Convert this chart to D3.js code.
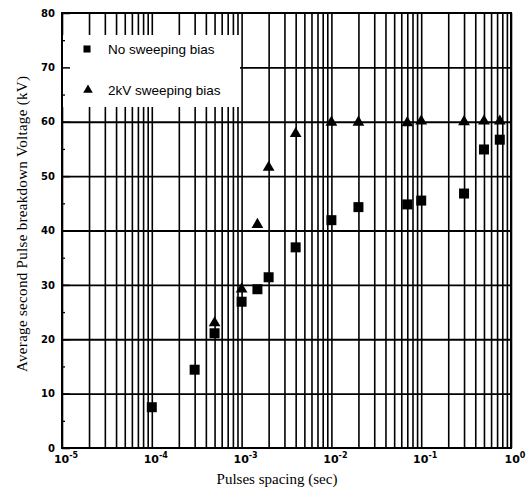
<!DOCTYPE html>
<html>
<head>
<meta charset="utf-8">
<script src="https://cdn.jsdelivr.net/npm/d3@7"></script>
<style>
  body { margin: 0; background: #fff; }
  svg { display: block; }
</style>
</head>
<body>
<svg width="528" height="491"></svg>
<script>
// values
var spacing_none = [1e-4, 3e-4, 5e-4, 1e-3, 1.5e-3, 2e-3, 4e-3, 1e-2, 2e-2, 7e-2, 1e-1, 3e-1, 5e-1, 7.5e-1]
var voltage_none = [7.5, 14.4, 21.1, 26.9, 29.2, 31.4, 36.9, 41.9, 44.3, 44.8, 45.5, 46.8, 54.9, 56.7]
var spacing_bias = [5e-4, 1e-3, 1.5e-3, 2e-3, 4e-3, 1e-2, 2e-2, 7e-2, 1e-1, 3e-1, 5e-1, 7.5e-1]
var voltage_bias = [23.0, 29.2, 41.1, 51.6, 57.8, 59.9, 59.9, 59.8, 60.1, 60.0, 60.1, 60.1]
var x_decades = [1e-5, 1e-4, 1e-3, 1e-2, 1e-1, 1]
var x_exponents = ['-5', '-4', '-3', '-2', '-1', '0']
var y_ticks = [0, 10, 20, 30, 40, 50, 60, 70, 80]
var y_minor = [5, 15, 25, 35, 45, 55, 65, 75]
var legend_labels = ['No sweeping bias', '2kV sweeping bias']

var svg = d3.select('svg')
// plot box (window.top is reserved, so use own names)
var pl = 62, pr = 511, pt = 13, pb = 448

var x = d3.scaleLog().domain([1e-5, 1]).range([pl, pr])
var y = d3.scaleLinear().domain([0, 80]).range([pb, pt])

// vertical grid, every 1..9 of each decade
svg.append('g')
  .attr('transform', 'translate(0,' + pb + ')')
  .call(d3.axisBottom(x).tickValues(x.ticks()).tickSize(-(pb - pt)).tickFormat(''))
  .call(g => g.select('.domain').remove())
  .selectAll('line')
  .style('stroke', '#000')
  .style('stroke-width', 1.6)

// horizontal grid
svg.append('g')
  .attr('transform', 'translate(' + pl + ',0)')
  .call(d3.axisLeft(y).tickValues(y_ticks.slice(1, -1)).tickSize(-(pr - pl)).tickFormat(''))
  .call(g => g.select('.domain').remove())
  .selectAll('line')
  .style('stroke', '#000')
  .style('stroke-width', 1.8)

// legend box hides the grid
svg.append('rect')
  .attr('x', pl).attr('y', 35)
  .attr('width', 178).attr('height', 72)
  .style('fill', '#fff')

// y axis: inward ticks and labels
var yAxis = svg.append('g')
  .attr('transform', 'translate(' + pl + ',0)')
  .call(d3.axisLeft(y).tickValues(y_ticks).tickSize(-8).tickPadding(7))
yAxis.select('.domain').remove()
yAxis.selectAll('line').style('stroke', '#000').style('stroke-width', 1.5)
yAxis.selectAll('text')
  .style('font-family', 'DejaVu Sans')
  .style('font-weight', 'bold')
  .style('font-size', '10px')
  .style('fill', '#000')

svg.append('g')
  .attr('transform', 'translate(' + pl + ',0)')
  .call(d3.axisLeft(y).tickValues(y_minor).tickSize(-3).tickFormat(''))
  .call(g => g.select('.domain').remove())
  .selectAll('line')
  .style('stroke', '#000')
  .style('stroke-width', 1.3)

// frame
svg.append('rect')
  .attr('x', pl).attr('y', pt)
  .attr('width', pr - pl).attr('height', pb - pt)
  .style('fill', 'none')
  .style('stroke', '#000')
  .style('stroke-width', 2)

// x labels 10^n
var xl = svg.selectAll('.xlab')
  .data(x_decades)
  .enter()
  .append('text')
  .attr('class', 'xlab')
  .attr('x', (d) => x(d) + 4)
  .attr('y', 463)
  .attr('text-anchor', 'middle')
  .style('font-family', 'DejaVu Sans')
  .style('font-weight', 'bold')
  .style('font-size', '11px')
xl.append('tspan').text('10')
xl.append('tspan')
  .attr('dy', -5)
  .style('font-size', '8px')
  .text((d, i) => x_exponents[i])

// axis titles
svg.append('text')
  .attr('x', 277).attr('y', 484)
  .attr('text-anchor', 'middle')
  .style('font-family', 'Liberation Serif')
  .style('font-size', '15px')
  .text('Pulses spacing (sec)')

svg.append('text')
  .attr('transform', 'translate(27,224) rotate(-90)')
  .attr('text-anchor', 'middle')
  .attr('textLength', 296)
  .attr('lengthAdjust', 'spacing')
  .style('font-family', 'Liberation Serif')
  .style('font-size', '15px')
  .text('Average second Pulse breakdown Voltage (kV)')

// data points
var square = d3.symbol().type(d3.symbolSquare).size(100)
var triangle = d3.symbol().type(d3.symbolTriangle).size(60)

svg.selectAll('.sq')
  .data(spacing_none)
  .enter()
  .append('path')
  .attr('class', 'sq')
  .attr('d', square)
  .attr('transform', (d, i) => 'translate(' + x(d) + ',' + y(voltage_none[i]) + ')')
  .style('fill', '#000')

svg.selectAll('.tri')
  .data(spacing_bias)
  .enter()
  .append('path')
  .attr('class', 'tri')
  .attr('d', triangle)
  .attr('transform', (d, i) => 'translate(' + x(d) + ',' + y(voltage_bias[i]) + ')')
  .style('fill', '#000')

// legend
var lg = svg.append('g')
lg.append('path')
  .attr('d', d3.symbol().type(d3.symbolSquare).size(50))
  .attr('transform', 'translate(87,49)')
lg.append('path')
  .attr('d', d3.symbol().type(d3.symbolTriangle).size(40))
  .attr('transform', 'translate(88,90)')
lg.selectAll('text')
  .data(legend_labels)
  .enter()
  .append('text')
  .attr('x', 108)
  .attr('y', (d, i) => 54 + i * 41)
  .style('font-family', 'Liberation Sans')
  .style('font-size', '13.5px')
  .text((d) => d)
</script>
</body>
</html>
